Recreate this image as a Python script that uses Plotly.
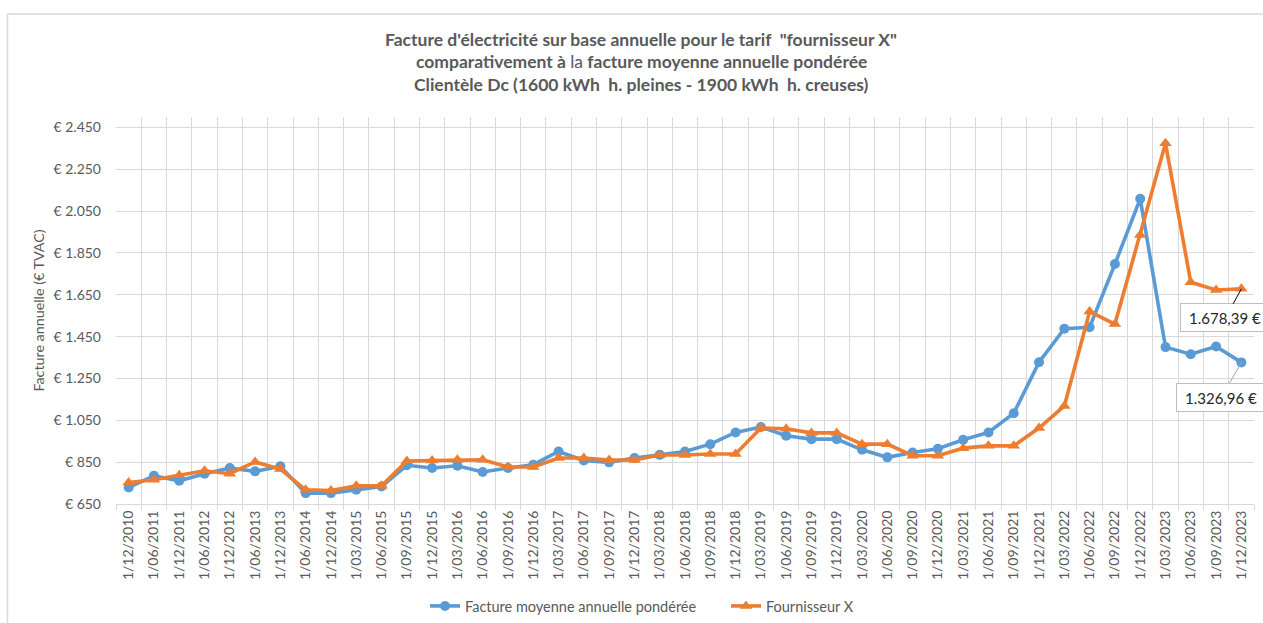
import plotly.graph_objects as go

# ---------------- data ----------------
categories = [
    "1/12/2010", "1/06/2011", "1/12/2011", "1/06/2012", "1/12/2012", "1/06/2013", "1/12/2013",
    "1/06/2014", "1/12/2014", "1/03/2015", "1/06/2015", "1/09/2015", "1/12/2015", "1/03/2016",
    "1/06/2016", "1/09/2016", "1/12/2016", "1/03/2017", "1/06/2017", "1/09/2017", "1/12/2017",
    "1/03/2018", "1/06/2018", "1/09/2018", "1/12/2018", "1/03/2019", "1/06/2019", "1/09/2019",
    "1/12/2019", "1/03/2020", "1/06/2020", "1/09/2020", "1/12/2020", "1/03/2021", "1/06/2021",
    "1/09/2021", "1/12/2021", "1/03/2022", "1/06/2022", "1/09/2022", "1/12/2022", "1/03/2023",
    "1/06/2023", "1/09/2023", "1/12/2023",
]

facture_moyenne = [
    729, 785, 761, 795, 822, 806, 830, 702, 702, 718, 734, 835, 822, 833, 803,
    822, 838, 901, 858, 849, 870, 885, 901, 936, 992, 1018, 976, 960, 960, 909,
    873, 896, 914, 957, 992, 1084, 1328, 1488, 1495, 1797, 2109, 1400, 1366, 1403, 1326.96,
]

fournisseur_x = [
    753, 766, 787, 809, 795, 851, 817, 718, 714, 737, 737, 855, 858, 861, 861,
    827, 827, 870, 870, 860, 860, 884, 884, 889, 889, 1013, 1010, 990, 990, 936,
    936, 881, 881, 917, 928, 928, 1013, 1119, 1570, 1510, 1936, 2374, 1710, 1673, 1678.39,
]

y_tick_values = [650, 850, 1050, 1250, 1450, 1650, 1850, 2050, 2250, 2450]
y_tick_labels = ["€ 650", "€ 850", "€ 1.050", "€ 1.250", "€ 1.450", "€ 1.650",
                 "€ 1.850", "€ 2.050", "€ 2.250", "€ 2.450"]

series_names = ["Facture moyenne annuelle pondérée", "Fournisseur X"]

# ---------------- style ----------------
FONT = "Lato"
GREY = "#595959"
GRID = "#d9d9d9"
BLUE = "#5B9BD5"
ORANGE = "#ED7D31"

W, H = 1263, 623
ML, MR, MT, MB = 116, 9, 117, 119
PW, PH = W - ML - MR, H - MT - MB


def fmt_eur(v):
    s = f"{v:,.2f}"
    return s.replace(",", "X").replace(".", ",").replace("X", ".") + " €"


def px_to_paper_x(px):
    return (px - ML) / PW


def px_to_paper_y(py):
    return (H - MB - py) / PH


fig = go.Figure()
fig.add_trace(go.Scatter(
    x=categories, y=facture_moyenne, name=series_names[0], mode="lines+markers",
    line=dict(color=BLUE, width=3.6), marker=dict(symbol="circle", size=10, color=BLUE),
    legendwidth=256,
))
fig.add_trace(go.Scatter(
    x=categories, y=fournisseur_x, name=series_names[1], mode="lines+markers",
    line=dict(color=ORANGE, width=3.6), marker=dict(symbol="triangle-up", size=11, color=ORANGE),
))

annotations = []
title_lines = [
    "<b>Facture d'électricité sur base annuelle pour le tarif  \"fournisseur X\"</b>",
    "<b>comparativement à </b>la<b> facture moyenne annuelle pondérée</b>",
    "<b>Clientèle Dc (1600 kWh  h. pleines - 1900 kWh  h. creuses)</b>",
]
title_y_px = [40, 62, 84]
for line, py in zip(title_lines, title_y_px):
    annotations.append(dict(
        text=line, xref="paper", yref="paper", x=px_to_paper_x(641), y=px_to_paper_y(py),
        xanchor="center", yanchor="middle", showarrow=False,
        font=dict(family=FONT, size=17.5, color=GREY),
    ))

# data labels on last points
annotations.append(dict(
    x=categories[-1], y=fournisseur_x[-1], xref="x", yref="y",
    text=fmt_eur(fournisseur_x[-1]), showarrow=True, arrowhead=0, arrowwidth=1,
    arrowcolor="#000000", ax=-16, ay=29, width=80, height=19, borderpad=4,
    bordercolor="#bfbfbf", borderwidth=1, bgcolor="white",
    font=dict(family=FONT, size=15, color="#262626"),
))
annotations.append(dict(
    x=categories[-1], y=facture_moyenne[-1], xref="x", yref="y",
    text=fmt_eur(facture_moyenne[-1]), showarrow=True, arrowhead=0, arrowwidth=1,
    arrowcolor="#a6a6a6", ax=-20, ay=35, width=80, height=19, borderpad=4,
    bordercolor="#bfbfbf", borderwidth=1, bgcolor="white",
    font=dict(family=FONT, size=15, color="#262626"),
))

shapes = [dict(
    type="rect", xref="paper", yref="paper",
    x0=px_to_paper_x(7.5), x1=px_to_paper_x(W + 20),
    y0=px_to_paper_y(H + 20), y1=px_to_paper_y(14),
    line=dict(color=GRID, width=1.5), fillcolor="rgba(0,0,0,0)", layer="below",
)]

fig.update_layout(
    width=W, height=H,
    margin=dict(l=ML, r=MR, t=MT, b=MB, pad=0, autoexpand=False),
    paper_bgcolor="white", plot_bgcolor="white",
    font=dict(family=FONT, size=14, color=GREY),
    showlegend=True,
    legend=dict(
        orientation="h", xref="container", x=642 / W, xanchor="center",
        yref="container", y=(H - 606) / H, yanchor="middle",
        font=dict(family=FONT, size=14.5, color=GREY), bgcolor="rgba(0,0,0,0)",
    ),
    annotations=annotations,
    shapes=shapes,
    xaxis=dict(
        type="category", range=[-0.5, len(categories) - 0.5],
        tickson="boundaries", ticks="outside", ticklen=5, tickcolor=GRID,
        showgrid=True, gridcolor=GRID, gridwidth=1,
        showline=True, linecolor=GRID, linewidth=1,
        tickangle=-90, tickfont=dict(family=FONT, size=14, color=GREY),
        zeroline=False, fixedrange=True, automargin=False,
    ),
    yaxis=dict(
        range=[650, 2500], tickvals=y_tick_values, ticktext=y_tick_labels,
        showgrid=True, gridcolor=GRID, gridwidth=1, zeroline=False,
        showline=False, ticks="", ticklabelstandoff=14,
        tickfont=dict(family=FONT, size=14, color=GREY),
        title=dict(text="Facture annuelle (€ TVAC)", standoff=5,
                   font=dict(family=FONT, size=14.3, color=GREY)),
        fixedrange=True, automargin=False,
    ),
)

fig.write_html(
    "out.html", include_plotlyjs=True,
    config={"displayModeBar": False},
    post_script="document.body.style.margin='0';document.body.style.padding='0';",
)
